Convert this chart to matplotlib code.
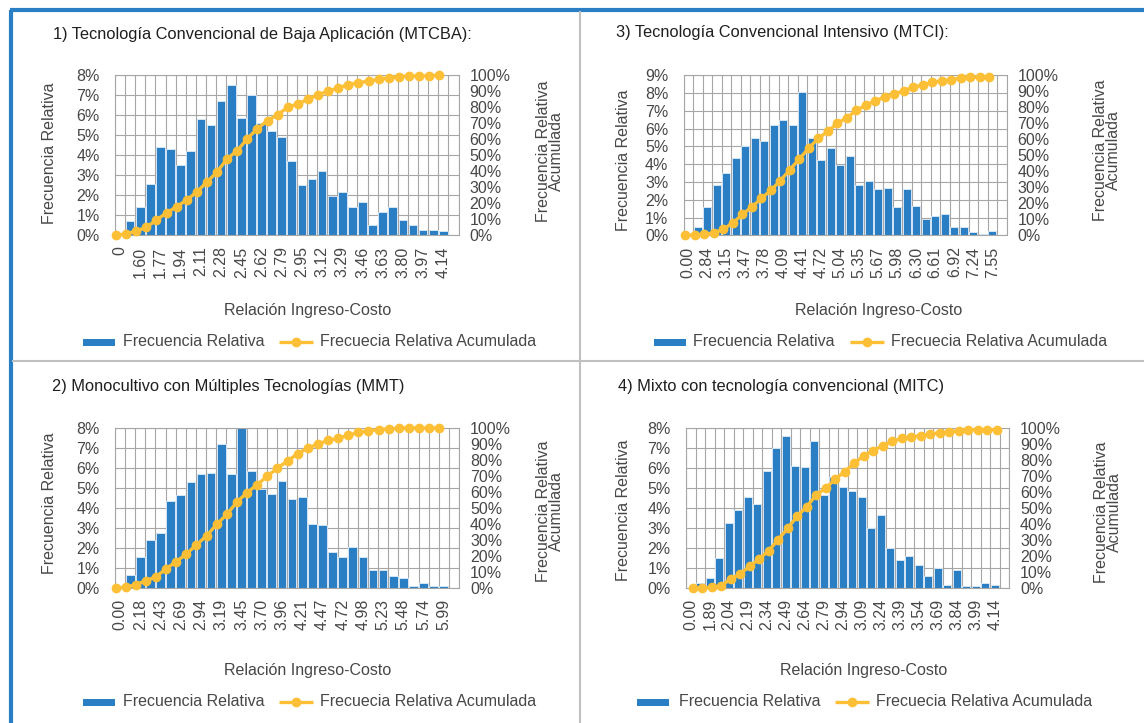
import numpy as np
import matplotlib
matplotlib.use("Agg")
import matplotlib.pyplot as plt
from matplotlib.ticker import FuncFormatter, MultipleLocator
from matplotlib.patches import Rectangle

# ---------------------------------------------------------------- data
# 1) MTCBA
p1_title = "1) Tecnología Convencional de Baja Aplicación (MTCBA):"
p1_labels = ["0", "1.60", "1.77", "1.94", "2.11", "2.28", "2.45", "2.62", "2.79",
             "2.95", "3.12", "3.29", "3.46", "3.63", "3.80", "3.97", "4.14"]
p1_freq = [0, 0.73, 1.40, 2.57, 4.40, 4.30, 3.50, 4.20, 5.80, 5.53, 6.70, 7.50,
           5.87, 7.02, 5.60, 5.20, 4.90, 3.73, 2.50, 2.80, 3.23, 1.98, 2.15, 1.40,
           1.65, 0.50, 1.17, 1.40, 0.75, 0.50, 0.25, 0.25, 0.20, 0]
p1_cum = [0, 0.9, 2.7, 5.0, 9.6, 14.0, 17.9, 22.1, 27.1, 33.3, 39.6, 47.9, 52.9,
          60.4, 66.7, 71.7, 75.4, 80.0, 82.1, 85.0, 87.9, 90.0, 92.1, 94.2, 95.4,
          96.3, 97.5, 98.3, 99.2, 99.5, 99.6, 99.8, 100.0]

# 3) MTCI
p3_title = "3) Tecnología Convencional Intensivo (MTCI):"
p3_labels = ["0.00", "2.84", "3.15", "3.47", "3.78", "4.09", "4.41", "4.72", "5.04",
             "5.35", "5.67", "5.98", "6.30", "6.61", "6.92", "7.24", "7.55"]
p3_freq = [0, 0.47, 1.60, 2.85, 3.50, 4.35, 5.00, 5.48, 5.29, 6.23, 6.49, 6.23,
           8.07, 5.48, 4.26, 4.92, 3.98, 4.45, 2.85, 3.06, 2.59, 2.68, 1.58, 2.59,
           1.65, 0.90, 1.09, 1.20, 0.47, 0.47, 0.19, 0.06, 0.24, 0]
p3_cum = [0, 0.2, 0.5, 1.5, 3.8, 7.8, 13.0, 17.8, 23.0, 28.2, 34.2, 41.0, 47.8,
          54.6, 60.6, 65.0, 70.0, 73.6, 78.0, 81.4, 84.0, 86.6, 88.4, 90.4, 92.6,
          94.0, 95.6, 96.6, 97.2, 98.4, 98.8, 98.8, 98.8]

# 2) MMT
p2_title = "2) Monocultivo con Múltiples Tecnologías (MMT)"
p2_labels = ["0.00", "2.18", "2.43", "2.69", "2.94", "3.19", "3.45", "3.70", "3.96",
             "4.21", "4.47", "4.72", "4.98", "5.23", "5.48", "5.74", "5.99"]
p2_freq = [0, 0.67, 1.57, 2.40, 2.73, 4.37, 4.63, 5.28, 5.70, 5.77, 7.18, 5.70,
           8.00, 5.85, 4.95, 4.72, 5.35, 4.45, 4.53, 3.22, 3.13, 1.82, 1.57, 2.05,
           1.57, 0.92, 0.92, 0.58, 0.48, 0.08, 0.25, 0.08, 0.08, 0]
p2_cum = [0, 0.6, 2.0, 4.6, 7.0, 12.0, 16.5, 21.3, 27.0, 32.6, 39.8, 46.0, 53.8,
          59.6, 64.6, 69.8, 75.0, 79.3, 84.0, 87.4, 90.0, 92.2, 93.6, 95.4, 97.2,
          98.2, 99.0, 99.5, 99.9, 100.0, 100.0, 100.0, 100.0]

# 4) MITC
p4_title = "4) Mixto con tecnología convencional (MITC)"
p4_labels = ["0.00", "1.89", "2.04", "2.19", "2.34", "2.49", "2.64", "2.79", "2.94",
             "3.09", "3.24", "3.39", "3.54", "3.69", "3.84", "3.99", "4.14"]
p4_freq = [0, 0.23, 0.50, 1.50, 3.23, 3.88, 4.55, 4.22, 5.87, 7.02, 7.58, 6.12,
           6.03, 7.35, 4.63, 5.53, 5.03, 4.87, 4.55, 2.98, 3.63, 2.00, 1.42, 1.58,
           1.17, 0.58, 1.00, 0.17, 0.92, 0.08, 0.08, 0.25, 0.17, 0]
p4_cum = [0, 0, 0.4, 1.3, 5.6, 8.8, 13.5, 18.1, 23.3, 30.2, 37.3, 44.8, 50.8,
          58.1, 62.3, 68.1, 72.7, 77.9, 82.7, 85.8, 89.0, 91.7, 93.5, 94.4, 95.2,
          96.3, 96.9, 97.5, 98.3, 98.8, 99.0, 99.0, 99.0]

bar_name = "Frecuencia Relativa"
line_name = "Frecuecia Relativa Acumulada"
y_left_title = "Frecuencia Relativa"
y_right_title = "Frecuencia Relativa\nAcumulada"
x_title = "Relación Ingreso-Costo"

# ---------------------------------------------------------------- style
W, H = 1144, 723
BLUE = "#2a7fc4"
EDGE = "#d4e5f5"
GOLD = "#fdbf36"
GRID = "#a6a6a6"
TXT = "#474747"
FS = 11.5
FS_TITLE = 11.8

plt.rcParams["font.family"] = ["Liberation Sans", "DejaVu Sans"]
fig = plt.figure(figsize=(W / 100, H / 100), dpi=100)
fig.patch.set_facecolor("white")


def box(l, t, r, b):
    return [l / W, 1 - b / H, (r - l) / W, (b - t) / H]


# full-figure layer in pixel coordinates for frame, titles and legends
ov = fig.add_axes([0, 0, 1, 1])
ov.set_xlim(0, W)
ov.set_ylim(H, 0)
ov.axis("off")

# frame
ov.plot([10, W], [10, 10], color=BLUE, lw=3, solid_capstyle="butt")
ov.plot([11, 11], [10, H], color=BLUE, lw=3, solid_capstyle="butt")
ov.plot([580, 580], [12, H], color="#c0c0c0", lw=1.5)
ov.plot([13, W], [361, 361], color="#c0c0c0", lw=1.5)

pct = FuncFormatter(lambda v, p: f"{v:.0f}%")


def panel(title, labels, freq, cum, ymax, plot, title_xy, ylab_l, ylab_r,
          xlab, leg, line_shift):
    l, t, r, b = plot
    ax = fig.add_axes(box(l, t, r, b))
    n = len(freq)
    x = np.arange(n)
    ax.bar(x, freq, width=0.86, color=BLUE, edgecolor=EDGE, linewidth=0.7,
           zorder=2)
    ax.set_xlim(-0.5, n - 0.5)
    ax.set_ylim(0, ymax)
    ax.set_xticks(np.arange(-0.5, n, 1), minor=True)
    ax.set_xticks(x[::2][:len(labels)])
    ax.set_xticklabels(labels, rotation=90)
    ax.grid(which="minor", axis="x", color=GRID, lw=0.8)
    ax.grid(which="major", axis="y", color=GRID, lw=0.8)
    ax.set_axisbelow(True)
    ax.yaxis.set_major_locator(MultipleLocator(1))
    ax.yaxis.set_major_formatter(pct)
    ax.tick_params(which="both", length=0, labelsize=FS, colors=TXT)
    ax.tick_params(axis="x", pad=8)
    ax.tick_params(axis="y", pad=11)
    for s in ax.spines.values():
        s.set_color(GRID)
        s.set_linewidth(0.8)

    ax2 = ax.twinx()
    ax2.set_ylim(0, 100)
    ax2.yaxis.set_major_locator(MultipleLocator(10))
    ax2.yaxis.set_major_formatter(pct)
    ax2.tick_params(length=0, labelsize=FS, colors=TXT, pad=8)
    for s in ax2.spines.values():
        s.set_visible(False)
    ax2.plot(np.arange(len(cum)) + line_shift, cum, color=GOLD, lw=2.4,
             marker="o", ms=6, zorder=3, clip_on=False)

    ov.text(title_xy[0], title_xy[1], title, fontsize=FS_TITLE,
            color="#1f1f1f", ha="left", va="center")
    ov.text(ylab_l[0], ylab_l[1], y_left_title, fontsize=FS, color=TXT,
            rotation=90, ha="center", va="center")
    ov.text(ylab_r[0], ylab_r[1], y_right_title, fontsize=FS, color=TXT,
            rotation=90, ha="center", va="center", multialignment="center",
            linespacing=0.9)
    ov.text(xlab[0], xlab[1], x_title, fontsize=FS, color=TXT,
            ha="center", va="center")

    px, ptxt, lx, ltxt, ly = leg
    ov.add_patch(Rectangle((px, ly - 3.5), 32, 7, color=BLUE, lw=0))
    ov.text(ptxt, ly, bar_name, fontsize=FS, color=TXT, ha="left", va="center")
    ov.plot([lx, lx + 34], [ly, ly], color=GOLD, lw=2.4,
            solid_capstyle="butt")
    ov.plot([lx + 17], [ly], "o", color=GOLD, ms=6)
    ov.text(ltxt, ly, line_name, fontsize=FS, color=TXT, ha="left",
            va="center")


panel(p1_title, p1_labels, p1_freq, p1_cum, 8, (115, 75.3, 458.5, 235.3),
      (53, 34), (50, 153), (550, 151), (308, 310),
      (83, 123, 279, 320, 342), -0.4)
panel(p3_title, p3_labels, p3_freq, p3_cum, 9, (683.5, 75.3, 1006.5, 235.3),
      (616, 33), (623, 160), (1107, 150), (879, 310),
      (654, 693, 850, 891, 342), -0.3)
panel(p2_title, p2_labels, p2_freq, p2_cum, 8, (115, 428, 459, 588),
      (52, 386), (50, 503), (550, 511), (308, 670),
      (83, 123, 279, 320, 702), -0.45)
panel(p4_title, p4_labels, p4_freq, p4_cum, 8, (686, 428, 1009, 588),
      (618, 386), (623, 510), (1108, 512), (864, 670),
      (637, 679, 835, 876, 702), 0.2)

fig.savefig("out.png", dpi=100, facecolor="white")
